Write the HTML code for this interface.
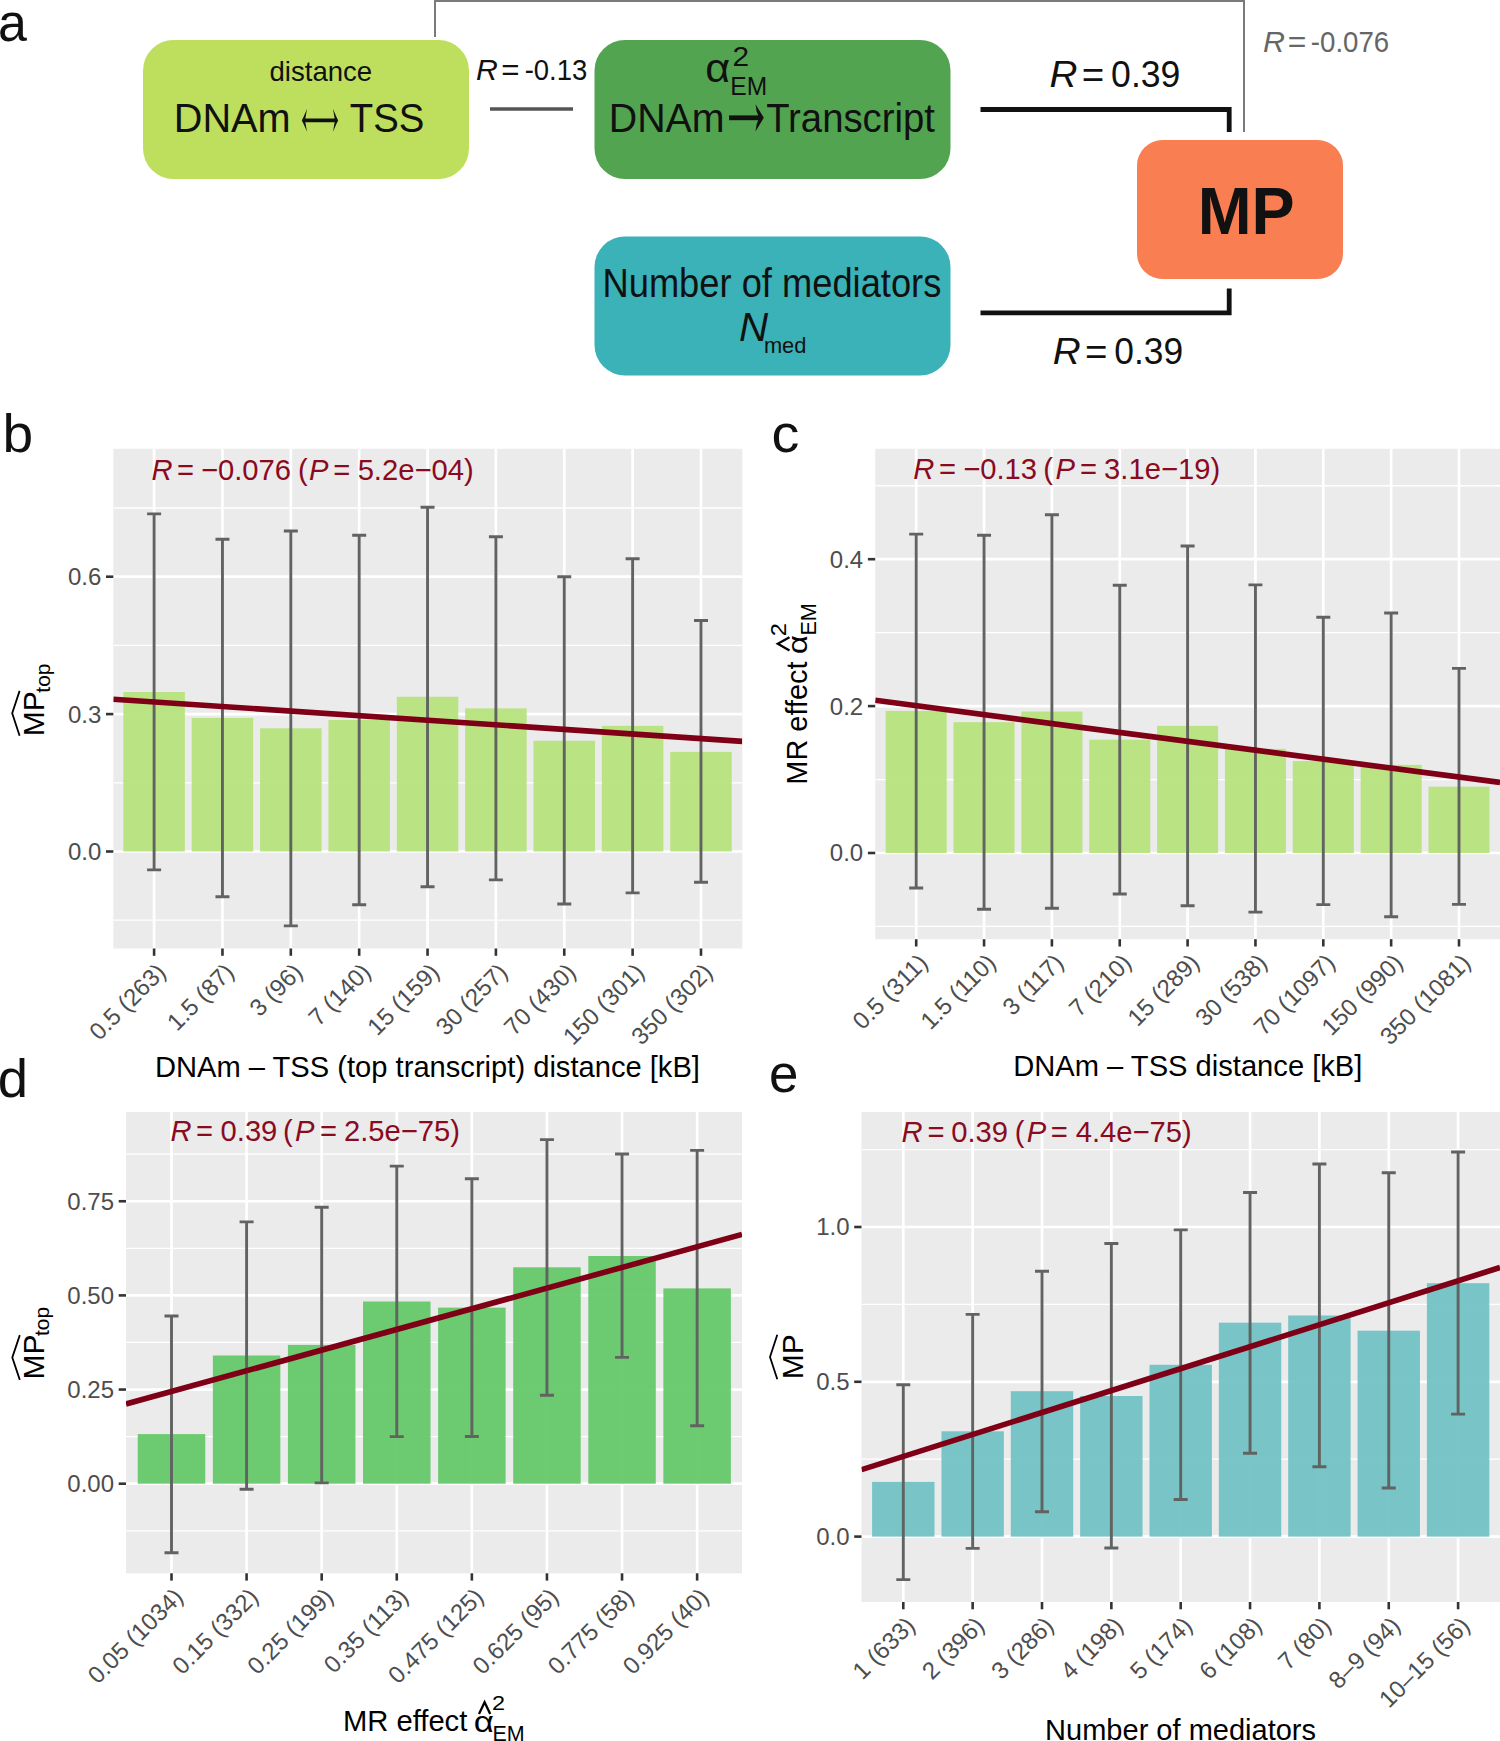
<!DOCTYPE html><html><head><meta charset="utf-8"><style>html,body{margin:0;padding:0;background:#fff;width:1500px;height:1741px;overflow:hidden}svg{display:block}</style></head><body>
<svg width="1500" height="1741" viewBox="0 0 1500 1741" font-family='"Liberation Sans", sans-serif'>
<text x="-1.91" y="40.78" font-size="53.48" fill="#111" textLength="28.91" lengthAdjust="spacingAndGlyphs">a</text>
<rect x="143" y="40" width="326" height="139" rx="30.5" fill="#bedf5e"/>
<rect x="594.5" y="40" width="356" height="139" rx="30.5" fill="#53a450"/>
<rect x="594.5" y="236.5" width="356" height="139" rx="30.5" fill="#3ab2b8"/>
<rect x="1137" y="140" width="206" height="139" rx="25.5" fill="#f97e52"/>
<path d="M435 37V1H1244V132" stroke="#7a7a7a" stroke-width="2" fill="none"/>
<path d="M980.5 109.5H1229.2V132" stroke="#111" stroke-width="4.8" fill="none"/>
<path d="M980.5 312.9H1229.2V288.4" stroke="#111" stroke-width="4.8" fill="none"/>
<line x1="490" x2="573" y1="109" y2="109" stroke="#555" stroke-width="3.3"/>
<text x="269.44" y="81" font-size="27.6" fill="#111" textLength="102.79" lengthAdjust="spacingAndGlyphs">distance</text>
<text x="173.74" y="132.2" font-size="40" fill="#111" textLength="116.87" lengthAdjust="spacingAndGlyphs">DNAm</text>
<path d="M303.5 120.4H336.5" stroke="#111" stroke-width="3.6" fill="none"/>
<path d="M333 108.8Q336 116.5 338.2 120.4Q336 124.3 333 131.8Q334.2 124.5 335 120.4Q334.2 116.3 333 108.8ZM307 108.8Q304 116.5 301.8 120.4Q304 124.3 307 131.8Q305.8 124.5 305 120.4Q305.8 116.3 307 108.8Z" fill="#111"/>
<text x="349.74" y="132.2" font-size="40" fill="#111" textLength="74.62" lengthAdjust="spacingAndGlyphs">TSS</text>
<text x="475.97" y="80.3" font-size="30.2" fill="#111" font-style="italic" textLength="21.86" lengthAdjust="spacingAndGlyphs">R</text>
<text x="501.37" y="80.3" font-size="30.2" fill="#111" textLength="18.27" lengthAdjust="spacingAndGlyphs">=</text>
<text x="524.68" y="80.3" font-size="30.2" fill="#111" textLength="62.63" lengthAdjust="spacingAndGlyphs">-0.13</text>
<text x="705.19" y="81.5" font-size="40.89" fill="#111" textLength="24.96" lengthAdjust="spacingAndGlyphs">α</text>
<text x="732.4" y="66.4" font-size="27.93" fill="#111" textLength="16.6" lengthAdjust="spacingAndGlyphs">2</text>
<text x="730.29" y="95.2" font-size="24.86" fill="#111" textLength="36.83" lengthAdjust="spacingAndGlyphs">EM</text>
<text x="608.77" y="132" font-size="40" fill="#111" textLength="115.82" lengthAdjust="spacingAndGlyphs">DNAm</text>
<path d="M729 117.8H760" stroke="#111" stroke-width="4.8" fill="none"/>
<path d="M755.5 104.2L763.8 117.8L755.5 131.4L756.6 124.2L759.2 117.8L756.6 111.4Z" fill="#111"/>
<text x="766.15" y="132" font-size="40" fill="#111" textLength="168.83" lengthAdjust="spacingAndGlyphs">Transcript</text>
<text x="602.52" y="297.3" font-size="40" fill="#111" textLength="338.79" lengthAdjust="spacingAndGlyphs">Number of mediators</text>
<text x="738.96" y="340.9" font-size="40.41" fill="#111" font-style="italic" textLength="29.12" lengthAdjust="spacingAndGlyphs">N</text>
<text x="763.95" y="353.38" font-size="22.47" fill="#111" textLength="42.46" lengthAdjust="spacingAndGlyphs">med</text>
<text x="1197.68" y="234" font-size="66" fill="#111" font-weight="bold" textLength="96.93" lengthAdjust="spacingAndGlyphs">MP</text>
<text x="1049.51" y="87.3" font-size="37.5" fill="#111" font-style="italic" textLength="27.98" lengthAdjust="spacingAndGlyphs">R</text>
<text x="1081.82" y="87.3" font-size="37.5" fill="#111" textLength="22.48" lengthAdjust="spacingAndGlyphs">=</text>
<text x="1111.11" y="87.3" font-size="37.5" fill="#111" textLength="69.28" lengthAdjust="spacingAndGlyphs">0.39</text>
<text x="1052.71" y="363.8" font-size="37.5" fill="#111" font-style="italic" textLength="27.98" lengthAdjust="spacingAndGlyphs">R</text>
<text x="1085.02" y="363.8" font-size="37.5" fill="#111" textLength="22.48" lengthAdjust="spacingAndGlyphs">=</text>
<text x="1114.32" y="363.8" font-size="37.5" fill="#111" textLength="68.86" lengthAdjust="spacingAndGlyphs">0.39</text>
<text x="1262.96" y="52.1" font-size="30" fill="#666" font-style="italic" textLength="21.97" lengthAdjust="spacingAndGlyphs">R</text>
<text x="1287.74" y="52.1" font-size="30" fill="#666" textLength="18.63" lengthAdjust="spacingAndGlyphs">=</text>
<text x="1310.87" y="52.1" font-size="30" fill="#666" textLength="78.34" lengthAdjust="spacingAndGlyphs">-0.076</text>
<text x="2.45" y="451.78" font-size="53.51" fill="#111" textLength="30.67" lengthAdjust="spacingAndGlyphs">b</text>
<clipPath id="pb"><rect x="113.3" y="448.8" width="629" height="499.7"/></clipPath>
<rect x="113.3" y="448.8" width="629" height="499.7" fill="#ebebeb"/>
<g clip-path="url(#pb)">
<line x1="113.3" x2="742.3" y1="920.2" y2="920.2" stroke="#fff" stroke-width="1.3"/>
<line x1="113.3" x2="742.3" y1="782.8" y2="782.8" stroke="#fff" stroke-width="1.3"/>
<line x1="113.3" x2="742.3" y1="645.4" y2="645.4" stroke="#fff" stroke-width="1.3"/>
<line x1="113.3" x2="742.3" y1="508" y2="508" stroke="#fff" stroke-width="1.3"/>
<line x1="113.3" x2="742.3" y1="851.5" y2="851.5" stroke="#fff" stroke-width="2.7"/>
<line x1="113.3" x2="742.3" y1="714.1" y2="714.1" stroke="#fff" stroke-width="2.7"/>
<line x1="113.3" x2="742.3" y1="576.7" y2="576.7" stroke="#fff" stroke-width="2.7"/>
<line x1="154.1" x2="154.1" y1="448.8" y2="948.5" stroke="#fff" stroke-width="2.7"/>
<line x1="222.46" x2="222.46" y1="448.8" y2="948.5" stroke="#fff" stroke-width="2.7"/>
<line x1="290.82" x2="290.82" y1="448.8" y2="948.5" stroke="#fff" stroke-width="2.7"/>
<line x1="359.18" x2="359.18" y1="448.8" y2="948.5" stroke="#fff" stroke-width="2.7"/>
<line x1="427.54" x2="427.54" y1="448.8" y2="948.5" stroke="#fff" stroke-width="2.7"/>
<line x1="495.9" x2="495.9" y1="448.8" y2="948.5" stroke="#fff" stroke-width="2.7"/>
<line x1="564.26" x2="564.26" y1="448.8" y2="948.5" stroke="#fff" stroke-width="2.7"/>
<line x1="632.62" x2="632.62" y1="448.8" y2="948.5" stroke="#fff" stroke-width="2.7"/>
<line x1="700.98" x2="700.98" y1="448.8" y2="948.5" stroke="#fff" stroke-width="2.7"/>
<rect x="123.35" y="692" width="61.5" height="159.5" fill="#b6e27b" fill-opacity="0.93"/>
<rect x="191.71" y="717.9" width="61.5" height="133.6" fill="#b6e27b" fill-opacity="0.93"/>
<rect x="260.07" y="728.3" width="61.5" height="123.2" fill="#b6e27b" fill-opacity="0.93"/>
<rect x="328.43" y="720" width="61.5" height="131.5" fill="#b6e27b" fill-opacity="0.93"/>
<rect x="396.79" y="696.8" width="61.5" height="154.7" fill="#b6e27b" fill-opacity="0.93"/>
<rect x="465.15" y="708.4" width="61.5" height="143.1" fill="#b6e27b" fill-opacity="0.93"/>
<rect x="533.51" y="740.8" width="61.5" height="110.7" fill="#b6e27b" fill-opacity="0.93"/>
<rect x="601.87" y="725.9" width="61.5" height="125.6" fill="#b6e27b" fill-opacity="0.93"/>
<rect x="670.23" y="751.9" width="61.5" height="99.6" fill="#b6e27b" fill-opacity="0.93"/>
<path d="M154.1 513.9V869.9M147.1 513.9H161.1M147.1 869.9H161.1" stroke="#616361" stroke-width="2.9" fill="none"/>
<path d="M222.46 539.2V896.8M215.46 539.2H229.46M215.46 896.8H229.46" stroke="#616361" stroke-width="2.9" fill="none"/>
<path d="M290.82 531V925.9M283.82 531H297.82M283.82 925.9H297.82" stroke="#616361" stroke-width="2.9" fill="none"/>
<path d="M359.18 535.2V904.8M352.18 535.2H366.18M352.18 904.8H366.18" stroke="#616361" stroke-width="2.9" fill="none"/>
<path d="M427.54 507.2V886.7M420.54 507.2H434.54M420.54 886.7H434.54" stroke="#616361" stroke-width="2.9" fill="none"/>
<path d="M495.9 536.8V879.9M488.9 536.8H502.9M488.9 879.9H502.9" stroke="#616361" stroke-width="2.9" fill="none"/>
<path d="M564.26 576.8V904M557.26 576.8H571.26M557.26 904H571.26" stroke="#616361" stroke-width="2.9" fill="none"/>
<path d="M632.62 558.7V892.9M625.62 558.7H639.62M625.62 892.9H639.62" stroke="#616361" stroke-width="2.9" fill="none"/>
<path d="M700.98 620.5V882.2M693.98 620.5H707.98M693.98 882.2H707.98" stroke="#616361" stroke-width="2.9" fill="none"/>
<line x1="113.3" y1="699.2" x2="742.3" y2="741.4" stroke="#7f0016" stroke-width="5.6"/>
</g>
<line x1="106" x2="113.3" y1="851.5" y2="851.5" stroke="#333333" stroke-width="2.6"/>
<text x="101.3" y="859.9" font-size="24" fill="#4d4d4d" text-anchor="end">0.0</text>
<line x1="106" x2="113.3" y1="714.1" y2="714.1" stroke="#333333" stroke-width="2.6"/>
<text x="101.3" y="722.5" font-size="24" fill="#4d4d4d" text-anchor="end">0.3</text>
<line x1="106" x2="113.3" y1="576.7" y2="576.7" stroke="#333333" stroke-width="2.6"/>
<text x="101.3" y="585.1" font-size="24" fill="#4d4d4d" text-anchor="end">0.6</text>
<line x1="154.1" x2="154.1" y1="948.5" y2="955.8" stroke="#333333" stroke-width="2.6"/>
<text transform="translate(167.1 973.5) rotate(-45)" font-size="24" fill="#4d4d4d" text-anchor="end">0.5 (263)</text>
<line x1="222.46" x2="222.46" y1="948.5" y2="955.8" stroke="#333333" stroke-width="2.6"/>
<text transform="translate(235.46 973.5) rotate(-45)" font-size="24" fill="#4d4d4d" text-anchor="end">1.5 (87)</text>
<line x1="290.82" x2="290.82" y1="948.5" y2="955.8" stroke="#333333" stroke-width="2.6"/>
<text transform="translate(303.82 973.5) rotate(-45)" font-size="24" fill="#4d4d4d" text-anchor="end">3 (96)</text>
<line x1="359.18" x2="359.18" y1="948.5" y2="955.8" stroke="#333333" stroke-width="2.6"/>
<text transform="translate(372.18 973.5) rotate(-45)" font-size="24" fill="#4d4d4d" text-anchor="end">7 (140)</text>
<line x1="427.54" x2="427.54" y1="948.5" y2="955.8" stroke="#333333" stroke-width="2.6"/>
<text transform="translate(440.54 973.5) rotate(-45)" font-size="24" fill="#4d4d4d" text-anchor="end">15 (159)</text>
<line x1="495.9" x2="495.9" y1="948.5" y2="955.8" stroke="#333333" stroke-width="2.6"/>
<text transform="translate(508.9 973.5) rotate(-45)" font-size="24" fill="#4d4d4d" text-anchor="end">30 (257)</text>
<line x1="564.26" x2="564.26" y1="948.5" y2="955.8" stroke="#333333" stroke-width="2.6"/>
<text transform="translate(577.26 973.5) rotate(-45)" font-size="24" fill="#4d4d4d" text-anchor="end">70 (430)</text>
<line x1="632.62" x2="632.62" y1="948.5" y2="955.8" stroke="#333333" stroke-width="2.6"/>
<text transform="translate(645.62 973.5) rotate(-45)" font-size="24" fill="#4d4d4d" text-anchor="end">150 (301)</text>
<line x1="700.98" x2="700.98" y1="948.5" y2="955.8" stroke="#333333" stroke-width="2.6"/>
<text transform="translate(713.98 973.5) rotate(-45)" font-size="24" fill="#4d4d4d" text-anchor="end">350 (302)</text>
<text y="479.5" font-size="29.2" fill="#8a0a1e"><tspan x="151.6" font-style="italic">R</tspan><tspan x="177.07">=</tspan><tspan x="200.96">−0.076</tspan><tspan x="298.09">(</tspan><tspan x="309.1" font-style="italic">P</tspan><tspan x="333.17">=</tspan><tspan x="357.63">5.2e−04)</tspan></text>
<text x="154.91" y="1077.3" font-size="29.1" fill="#000" textLength="545.06" lengthAdjust="spacingAndGlyphs">DNAm – TSS (top transcript) distance [kB]</text>
<g transform="translate(44.3 734.2) rotate(-90)"><text x="-2" y="0" font-size="30" fill="#000">MP</text><text x="41.5" y="5.2" font-size="21" fill="#000">top</text></g>
<path d="M19.6 690.9L12.2 713.3L19.6 735.7" stroke="#000" stroke-width="1.8" fill="none"/>
<text x="771.64" y="452.28" font-size="53.12" fill="#111" textLength="27.83" lengthAdjust="spacingAndGlyphs">c</text>
<clipPath id="pc"><rect x="875.2" y="448.8" width="624.8" height="490.4"/></clipPath>
<rect x="875.2" y="448.8" width="624.8" height="490.4" fill="#ebebeb"/>
<g clip-path="url(#pc)">
<line x1="875.2" x2="1500" y1="926.45" y2="926.45" stroke="#fff" stroke-width="1.3"/>
<line x1="875.2" x2="1500" y1="779.55" y2="779.55" stroke="#fff" stroke-width="1.3"/>
<line x1="875.2" x2="1500" y1="632.65" y2="632.65" stroke="#fff" stroke-width="1.3"/>
<line x1="875.2" x2="1500" y1="485.75" y2="485.75" stroke="#fff" stroke-width="1.3"/>
<line x1="875.2" x2="1500" y1="853" y2="853" stroke="#fff" stroke-width="2.7"/>
<line x1="875.2" x2="1500" y1="706.1" y2="706.1" stroke="#fff" stroke-width="2.7"/>
<line x1="875.2" x2="1500" y1="559.2" y2="559.2" stroke="#fff" stroke-width="2.7"/>
<line x1="916.2" x2="916.2" y1="448.8" y2="939.2" stroke="#fff" stroke-width="2.7"/>
<line x1="984.05" x2="984.05" y1="448.8" y2="939.2" stroke="#fff" stroke-width="2.7"/>
<line x1="1051.9" x2="1051.9" y1="448.8" y2="939.2" stroke="#fff" stroke-width="2.7"/>
<line x1="1119.75" x2="1119.75" y1="448.8" y2="939.2" stroke="#fff" stroke-width="2.7"/>
<line x1="1187.6" x2="1187.6" y1="448.8" y2="939.2" stroke="#fff" stroke-width="2.7"/>
<line x1="1255.45" x2="1255.45" y1="448.8" y2="939.2" stroke="#fff" stroke-width="2.7"/>
<line x1="1323.3" x2="1323.3" y1="448.8" y2="939.2" stroke="#fff" stroke-width="2.7"/>
<line x1="1391.15" x2="1391.15" y1="448.8" y2="939.2" stroke="#fff" stroke-width="2.7"/>
<line x1="1459" x2="1459" y1="448.8" y2="939.2" stroke="#fff" stroke-width="2.7"/>
<rect x="885.7" y="710.9" width="61" height="142.1" fill="#b6e27b" fill-opacity="0.93"/>
<rect x="953.55" y="722.2" width="61" height="130.8" fill="#b6e27b" fill-opacity="0.93"/>
<rect x="1021.4" y="711.6" width="61" height="141.4" fill="#b6e27b" fill-opacity="0.93"/>
<rect x="1089.25" y="739.7" width="61" height="113.3" fill="#b6e27b" fill-opacity="0.93"/>
<rect x="1157.1" y="725.9" width="61" height="127.1" fill="#b6e27b" fill-opacity="0.93"/>
<rect x="1224.95" y="748.9" width="61" height="104.1" fill="#b6e27b" fill-opacity="0.93"/>
<rect x="1292.8" y="761" width="61" height="92" fill="#b6e27b" fill-opacity="0.93"/>
<rect x="1360.65" y="764.9" width="61" height="88.1" fill="#b6e27b" fill-opacity="0.93"/>
<rect x="1428.5" y="786.7" width="61" height="66.3" fill="#b6e27b" fill-opacity="0.93"/>
<path d="M916.2 534.1V888M909.2 534.1H923.2M909.2 888H923.2" stroke="#616361" stroke-width="2.9" fill="none"/>
<path d="M984.05 535.2V909.3M977.05 535.2H991.05M977.05 909.3H991.05" stroke="#616361" stroke-width="2.9" fill="none"/>
<path d="M1051.9 514.7V908.3M1044.9 514.7H1058.9M1044.9 908.3H1058.9" stroke="#616361" stroke-width="2.9" fill="none"/>
<path d="M1119.75 585.3V894M1112.75 585.3H1126.75M1112.75 894H1126.75" stroke="#616361" stroke-width="2.9" fill="none"/>
<path d="M1187.6 546V905.7M1180.6 546H1194.6M1180.6 905.7H1194.6" stroke="#616361" stroke-width="2.9" fill="none"/>
<path d="M1255.45 584.9V912.1M1248.45 584.9H1262.45M1248.45 912.1H1262.45" stroke="#616361" stroke-width="2.9" fill="none"/>
<path d="M1323.3 617.3V904.6M1316.3 617.3H1330.3M1316.3 904.6H1330.3" stroke="#616361" stroke-width="2.9" fill="none"/>
<path d="M1391.15 613V916.8M1384.15 613H1398.15M1384.15 916.8H1398.15" stroke="#616361" stroke-width="2.9" fill="none"/>
<path d="M1459 668.4V904.4M1452 668.4H1466M1452 904.4H1466" stroke="#616361" stroke-width="2.9" fill="none"/>
<line x1="875.2" y1="700.3" x2="1500" y2="782.4" stroke="#7f0016" stroke-width="5.6"/>
</g>
<line x1="867.9" x2="875.2" y1="853" y2="853" stroke="#333333" stroke-width="2.6"/>
<text x="863.2" y="861.4" font-size="24" fill="#4d4d4d" text-anchor="end">0.0</text>
<line x1="867.9" x2="875.2" y1="706.1" y2="706.1" stroke="#333333" stroke-width="2.6"/>
<text x="863.2" y="714.5" font-size="24" fill="#4d4d4d" text-anchor="end">0.2</text>
<line x1="867.9" x2="875.2" y1="559.2" y2="559.2" stroke="#333333" stroke-width="2.6"/>
<text x="863.2" y="567.6" font-size="24" fill="#4d4d4d" text-anchor="end">0.4</text>
<line x1="916.2" x2="916.2" y1="939.2" y2="946.5" stroke="#333333" stroke-width="2.6"/>
<text transform="translate(929.2 964.2) rotate(-45)" font-size="24" fill="#4d4d4d" text-anchor="end">0.5 (311)</text>
<line x1="984.05" x2="984.05" y1="939.2" y2="946.5" stroke="#333333" stroke-width="2.6"/>
<text transform="translate(997.05 964.2) rotate(-45)" font-size="24" fill="#4d4d4d" text-anchor="end">1.5 (110)</text>
<line x1="1051.9" x2="1051.9" y1="939.2" y2="946.5" stroke="#333333" stroke-width="2.6"/>
<text transform="translate(1064.9 964.2) rotate(-45)" font-size="24" fill="#4d4d4d" text-anchor="end">3 (117)</text>
<line x1="1119.75" x2="1119.75" y1="939.2" y2="946.5" stroke="#333333" stroke-width="2.6"/>
<text transform="translate(1132.75 964.2) rotate(-45)" font-size="24" fill="#4d4d4d" text-anchor="end">7 (210)</text>
<line x1="1187.6" x2="1187.6" y1="939.2" y2="946.5" stroke="#333333" stroke-width="2.6"/>
<text transform="translate(1200.6 964.2) rotate(-45)" font-size="24" fill="#4d4d4d" text-anchor="end">15 (289)</text>
<line x1="1255.45" x2="1255.45" y1="939.2" y2="946.5" stroke="#333333" stroke-width="2.6"/>
<text transform="translate(1268.45 964.2) rotate(-45)" font-size="24" fill="#4d4d4d" text-anchor="end">30 (538)</text>
<line x1="1323.3" x2="1323.3" y1="939.2" y2="946.5" stroke="#333333" stroke-width="2.6"/>
<text transform="translate(1336.3 964.2) rotate(-45)" font-size="24" fill="#4d4d4d" text-anchor="end">70 (1097)</text>
<line x1="1391.15" x2="1391.15" y1="939.2" y2="946.5" stroke="#333333" stroke-width="2.6"/>
<text transform="translate(1404.15 964.2) rotate(-45)" font-size="24" fill="#4d4d4d" text-anchor="end">150 (990)</text>
<line x1="1459" x2="1459" y1="939.2" y2="946.5" stroke="#333333" stroke-width="2.6"/>
<text transform="translate(1472 964.2) rotate(-45)" font-size="24" fill="#4d4d4d" text-anchor="end">350 (1081)</text>
<text y="479" font-size="29.2" fill="#8a0a1e"><tspan x="913.2" font-style="italic">R</tspan><tspan x="938.97">=</tspan><tspan x="963.16">−0.13</tspan><tspan x="1043.29">(</tspan><tspan x="1055.6" font-style="italic">P</tspan><tspan x="1079.97">=</tspan><tspan x="1104.09">3.1e−19)</tspan></text>
<text x="1013.21" y="1076.4" font-size="29.1" fill="#000" textLength="349.16" lengthAdjust="spacingAndGlyphs">DNAm – TSS distance [kB]</text>
<g transform="translate(806.9 782.3) rotate(-90)"><text x="-2.36" y="0" font-size="29.1" fill="#000" textLength="123.27" lengthAdjust="spacingAndGlyphs">MR effect</text></g>
<g transform="translate(806.9 782.3) rotate(-90)"><text x="128.01" y="0.03" font-size="27.56" fill="#000" textLength="19.14" lengthAdjust="spacingAndGlyphs">α</text></g>
<g transform="translate(806.9 782.3) rotate(-90)"><text x="146.11" y="-21" font-size="22.34" fill="#000" textLength="13.18" lengthAdjust="spacingAndGlyphs">2</text></g>
<g transform="translate(806.9 782.3) rotate(-90)"><text x="146.73" y="9.1" font-size="22.09" fill="#000" textLength="32.45" lengthAdjust="spacingAndGlyphs">EM</text></g>
<path d="M789.5 650.5L777.8 643.8L789.5 637.2" stroke="#000" stroke-width="2.3" fill="none" stroke-linejoin="miter"/>
<text x="-2.29" y="1097.28" font-size="52.83" fill="#111" textLength="30.3" lengthAdjust="spacingAndGlyphs">d</text>
<clipPath id="pd"><rect x="126" y="1112" width="616" height="461.3"/></clipPath>
<rect x="126" y="1112" width="616" height="461.3" fill="#ebebeb"/>
<g clip-path="url(#pd)">
<line x1="126" x2="742" y1="1530.78" y2="1530.78" stroke="#fff" stroke-width="1.3"/>
<line x1="126" x2="742" y1="1436.62" y2="1436.62" stroke="#fff" stroke-width="1.3"/>
<line x1="126" x2="742" y1="1342.47" y2="1342.47" stroke="#fff" stroke-width="1.3"/>
<line x1="126" x2="742" y1="1248.33" y2="1248.33" stroke="#fff" stroke-width="1.3"/>
<line x1="126" x2="742" y1="1154.17" y2="1154.17" stroke="#fff" stroke-width="1.3"/>
<line x1="126" x2="742" y1="1483.7" y2="1483.7" stroke="#fff" stroke-width="2.7"/>
<line x1="126" x2="742" y1="1389.55" y2="1389.55" stroke="#fff" stroke-width="2.7"/>
<line x1="126" x2="742" y1="1295.4" y2="1295.4" stroke="#fff" stroke-width="2.7"/>
<line x1="126" x2="742" y1="1201.25" y2="1201.25" stroke="#fff" stroke-width="2.7"/>
<line x1="171.5" x2="171.5" y1="1112" y2="1573.3" stroke="#fff" stroke-width="2.7"/>
<line x1="246.59" x2="246.59" y1="1112" y2="1573.3" stroke="#fff" stroke-width="2.7"/>
<line x1="321.68" x2="321.68" y1="1112" y2="1573.3" stroke="#fff" stroke-width="2.7"/>
<line x1="396.77" x2="396.77" y1="1112" y2="1573.3" stroke="#fff" stroke-width="2.7"/>
<line x1="471.86" x2="471.86" y1="1112" y2="1573.3" stroke="#fff" stroke-width="2.7"/>
<line x1="546.95" x2="546.95" y1="1112" y2="1573.3" stroke="#fff" stroke-width="2.7"/>
<line x1="622.04" x2="622.04" y1="1112" y2="1573.3" stroke="#fff" stroke-width="2.7"/>
<line x1="697.13" x2="697.13" y1="1112" y2="1573.3" stroke="#fff" stroke-width="2.7"/>
<rect x="137.75" y="1434.1" width="67.5" height="49.6" fill="#62c766" fill-opacity="0.93"/>
<rect x="212.84" y="1355.5" width="67.5" height="128.2" fill="#62c766" fill-opacity="0.93"/>
<rect x="287.93" y="1344.9" width="67.5" height="138.8" fill="#62c766" fill-opacity="0.93"/>
<rect x="363.02" y="1301.5" width="67.5" height="182.2" fill="#62c766" fill-opacity="0.93"/>
<rect x="438.11" y="1307.6" width="67.5" height="176.1" fill="#62c766" fill-opacity="0.93"/>
<rect x="513.2" y="1267.3" width="67.5" height="216.4" fill="#62c766" fill-opacity="0.93"/>
<rect x="588.29" y="1256" width="67.5" height="227.7" fill="#62c766" fill-opacity="0.93"/>
<rect x="663.38" y="1288.4" width="67.5" height="195.3" fill="#62c766" fill-opacity="0.93"/>
<path d="M171.5 1316V1552.7M164.5 1316H178.5M164.5 1552.7H178.5" stroke="#616361" stroke-width="2.9" fill="none"/>
<path d="M246.59 1221.9V1489.3M239.59 1221.9H253.59M239.59 1489.3H253.59" stroke="#616361" stroke-width="2.9" fill="none"/>
<path d="M321.68 1207.2V1482.9M314.68 1207.2H328.68M314.68 1482.9H328.68" stroke="#616361" stroke-width="2.9" fill="none"/>
<path d="M396.77 1166.1V1436.6M389.77 1166.1H403.77M389.77 1436.6H403.77" stroke="#616361" stroke-width="2.9" fill="none"/>
<path d="M471.86 1178.7V1436.5M464.86 1178.7H478.86M464.86 1436.5H478.86" stroke="#616361" stroke-width="2.9" fill="none"/>
<path d="M546.95 1139.6V1395.2M539.95 1139.6H553.95M539.95 1395.2H553.95" stroke="#616361" stroke-width="2.9" fill="none"/>
<path d="M622.04 1154V1357.4M615.04 1154H629.04M615.04 1357.4H629.04" stroke="#616361" stroke-width="2.9" fill="none"/>
<path d="M697.13 1150.4V1425.7M690.13 1150.4H704.13M690.13 1425.7H704.13" stroke="#616361" stroke-width="2.9" fill="none"/>
<line x1="126" y1="1404" x2="742" y2="1234.4" stroke="#7f0016" stroke-width="5.6"/>
</g>
<line x1="118.7" x2="126" y1="1483.7" y2="1483.7" stroke="#333333" stroke-width="2.6"/>
<text x="114" y="1492.1" font-size="24" fill="#4d4d4d" text-anchor="end">0.00</text>
<line x1="118.7" x2="126" y1="1389.55" y2="1389.55" stroke="#333333" stroke-width="2.6"/>
<text x="114" y="1397.95" font-size="24" fill="#4d4d4d" text-anchor="end">0.25</text>
<line x1="118.7" x2="126" y1="1295.4" y2="1295.4" stroke="#333333" stroke-width="2.6"/>
<text x="114" y="1303.8" font-size="24" fill="#4d4d4d" text-anchor="end">0.50</text>
<line x1="118.7" x2="126" y1="1201.25" y2="1201.25" stroke="#333333" stroke-width="2.6"/>
<text x="114" y="1209.65" font-size="24" fill="#4d4d4d" text-anchor="end">0.75</text>
<line x1="171.5" x2="171.5" y1="1573.3" y2="1580.6" stroke="#333333" stroke-width="2.6"/>
<text transform="translate(184.5 1598.3) rotate(-45)" font-size="24" fill="#4d4d4d" text-anchor="end">0.05 (1034)</text>
<line x1="246.59" x2="246.59" y1="1573.3" y2="1580.6" stroke="#333333" stroke-width="2.6"/>
<text transform="translate(259.59 1598.3) rotate(-45)" font-size="24" fill="#4d4d4d" text-anchor="end">0.15 (332)</text>
<line x1="321.68" x2="321.68" y1="1573.3" y2="1580.6" stroke="#333333" stroke-width="2.6"/>
<text transform="translate(334.68 1598.3) rotate(-45)" font-size="24" fill="#4d4d4d" text-anchor="end">0.25 (199)</text>
<line x1="396.77" x2="396.77" y1="1573.3" y2="1580.6" stroke="#333333" stroke-width="2.6"/>
<text transform="translate(409.77 1598.3) rotate(-45)" font-size="24" fill="#4d4d4d" text-anchor="end">0.35 (113)</text>
<line x1="471.86" x2="471.86" y1="1573.3" y2="1580.6" stroke="#333333" stroke-width="2.6"/>
<text transform="translate(484.86 1598.3) rotate(-45)" font-size="24" fill="#4d4d4d" text-anchor="end">0.475 (125)</text>
<line x1="546.95" x2="546.95" y1="1573.3" y2="1580.6" stroke="#333333" stroke-width="2.6"/>
<text transform="translate(559.95 1598.3) rotate(-45)" font-size="24" fill="#4d4d4d" text-anchor="end">0.625 (95)</text>
<line x1="622.04" x2="622.04" y1="1573.3" y2="1580.6" stroke="#333333" stroke-width="2.6"/>
<text transform="translate(635.04 1598.3) rotate(-45)" font-size="24" fill="#4d4d4d" text-anchor="end">0.775 (58)</text>
<line x1="697.13" x2="697.13" y1="1573.3" y2="1580.6" stroke="#333333" stroke-width="2.6"/>
<text transform="translate(710.13 1598.3) rotate(-45)" font-size="24" fill="#4d4d4d" text-anchor="end">0.925 (40)</text>
<text y="1141" font-size="29.2" fill="#8a0a1e"><tspan x="170.4" font-style="italic">R</tspan><tspan x="195.97">=</tspan><tspan x="220.56">0.39</tspan><tspan x="282.89">(</tspan><tspan x="295.1" font-style="italic">P</tspan><tspan x="320.07">=</tspan><tspan x="344.03">2.5e−75)</tspan></text>
<text x="343.02" y="1730.9" font-size="29.1" fill="#000" textLength="124.3" lengthAdjust="spacingAndGlyphs">MR effect</text>
<text x="473.83" y="1731.72" font-size="28.66" fill="#000" textLength="20.17" lengthAdjust="spacingAndGlyphs">α</text>
<path d="M479 1714L484.6 1702.2L490.2 1714" stroke="#000" stroke-width="2.3" fill="none"/>
<text x="492.12" y="1710" font-size="21.05" fill="#000" textLength="13.06" lengthAdjust="spacingAndGlyphs">2</text>
<text x="492.54" y="1740.5" font-size="22.53" fill="#000" textLength="32.22" lengthAdjust="spacingAndGlyphs">EM</text>
<g transform="translate(44.1 1377.5) rotate(-90)"><text x="-2" y="0" font-size="30" fill="#000">MP</text><text x="41.5" y="5.2" font-size="21" fill="#000">top</text></g>
<path d="M19.8 1335.1L12.3 1357.5L19.8 1379.9" stroke="#000" stroke-width="1.8" fill="none"/>
<text x="768.95" y="1092.18" font-size="53.66" fill="#111" textLength="29.39" lengthAdjust="spacingAndGlyphs">e</text>
<clipPath id="pe"><rect x="861.5" y="1112" width="638.5" height="490"/></clipPath>
<rect x="861.5" y="1112" width="638.5" height="490" fill="#ebebeb"/>
<g clip-path="url(#pe)">
<line x1="861.5" x2="1500" y1="1614" y2="1614" stroke="#fff" stroke-width="1.3"/>
<line x1="861.5" x2="1500" y1="1459.2" y2="1459.2" stroke="#fff" stroke-width="1.3"/>
<line x1="861.5" x2="1500" y1="1304.4" y2="1304.4" stroke="#fff" stroke-width="1.3"/>
<line x1="861.5" x2="1500" y1="1149.6" y2="1149.6" stroke="#fff" stroke-width="1.3"/>
<line x1="861.5" x2="1500" y1="1536.6" y2="1536.6" stroke="#fff" stroke-width="2.7"/>
<line x1="861.5" x2="1500" y1="1381.8" y2="1381.8" stroke="#fff" stroke-width="2.7"/>
<line x1="861.5" x2="1500" y1="1227" y2="1227" stroke="#fff" stroke-width="2.7"/>
<line x1="903.3" x2="903.3" y1="1112" y2="1602" stroke="#fff" stroke-width="2.7"/>
<line x1="972.65" x2="972.65" y1="1112" y2="1602" stroke="#fff" stroke-width="2.7"/>
<line x1="1042" x2="1042" y1="1112" y2="1602" stroke="#fff" stroke-width="2.7"/>
<line x1="1111.35" x2="1111.35" y1="1112" y2="1602" stroke="#fff" stroke-width="2.7"/>
<line x1="1180.7" x2="1180.7" y1="1112" y2="1602" stroke="#fff" stroke-width="2.7"/>
<line x1="1250.05" x2="1250.05" y1="1112" y2="1602" stroke="#fff" stroke-width="2.7"/>
<line x1="1319.4" x2="1319.4" y1="1112" y2="1602" stroke="#fff" stroke-width="2.7"/>
<line x1="1388.75" x2="1388.75" y1="1112" y2="1602" stroke="#fff" stroke-width="2.7"/>
<line x1="1458.1" x2="1458.1" y1="1112" y2="1602" stroke="#fff" stroke-width="2.7"/>
<rect x="872.1" y="1481.9" width="62.4" height="54.7" fill="#6fc1c3" fill-opacity="0.93"/>
<rect x="941.45" y="1431.3" width="62.4" height="105.3" fill="#6fc1c3" fill-opacity="0.93"/>
<rect x="1010.8" y="1391.2" width="62.4" height="145.4" fill="#6fc1c3" fill-opacity="0.93"/>
<rect x="1080.15" y="1396" width="62.4" height="140.6" fill="#6fc1c3" fill-opacity="0.93"/>
<rect x="1149.5" y="1364.8" width="62.4" height="171.8" fill="#6fc1c3" fill-opacity="0.93"/>
<rect x="1218.85" y="1322.7" width="62.4" height="213.9" fill="#6fc1c3" fill-opacity="0.93"/>
<rect x="1288.2" y="1315.5" width="62.4" height="221.1" fill="#6fc1c3" fill-opacity="0.93"/>
<rect x="1357.55" y="1330.7" width="62.4" height="205.9" fill="#6fc1c3" fill-opacity="0.93"/>
<rect x="1426.9" y="1283.2" width="62.4" height="253.4" fill="#6fc1c3" fill-opacity="0.93"/>
<path d="M903.3 1384.7V1579.6M896.3 1384.7H910.3M896.3 1579.6H910.3" stroke="#616361" stroke-width="2.9" fill="none"/>
<path d="M972.65 1314.4V1548.4M965.65 1314.4H979.65M965.65 1548.4H979.65" stroke="#616361" stroke-width="2.9" fill="none"/>
<path d="M1042 1271.2V1511.7M1035 1271.2H1049M1035 1511.7H1049" stroke="#616361" stroke-width="2.9" fill="none"/>
<path d="M1111.35 1243.5V1548M1104.35 1243.5H1118.35M1104.35 1548H1118.35" stroke="#616361" stroke-width="2.9" fill="none"/>
<path d="M1180.7 1229.9V1499.5M1173.7 1229.9H1187.7M1173.7 1499.5H1187.7" stroke="#616361" stroke-width="2.9" fill="none"/>
<path d="M1250.05 1192.5V1453.3M1243.05 1192.5H1257.05M1243.05 1453.3H1257.05" stroke="#616361" stroke-width="2.9" fill="none"/>
<path d="M1319.4 1164V1466.7M1312.4 1164H1326.4M1312.4 1466.7H1326.4" stroke="#616361" stroke-width="2.9" fill="none"/>
<path d="M1388.75 1172.8V1488M1381.75 1172.8H1395.75M1381.75 1488H1395.75" stroke="#616361" stroke-width="2.9" fill="none"/>
<path d="M1458.1 1152V1414.1M1451.1 1152H1465.1M1451.1 1414.1H1465.1" stroke="#616361" stroke-width="2.9" fill="none"/>
<line x1="861.5" y1="1469.7" x2="1500" y2="1267.5" stroke="#7f0016" stroke-width="5.6"/>
</g>
<line x1="854.2" x2="861.5" y1="1536.6" y2="1536.6" stroke="#333333" stroke-width="2.6"/>
<text x="849.5" y="1545" font-size="24" fill="#4d4d4d" text-anchor="end">0.0</text>
<line x1="854.2" x2="861.5" y1="1381.8" y2="1381.8" stroke="#333333" stroke-width="2.6"/>
<text x="849.5" y="1390.2" font-size="24" fill="#4d4d4d" text-anchor="end">0.5</text>
<line x1="854.2" x2="861.5" y1="1227" y2="1227" stroke="#333333" stroke-width="2.6"/>
<text x="849.5" y="1235.4" font-size="24" fill="#4d4d4d" text-anchor="end">1.0</text>
<line x1="903.3" x2="903.3" y1="1602" y2="1609.3" stroke="#333333" stroke-width="2.6"/>
<text transform="translate(916.3 1627) rotate(-45)" font-size="24" fill="#4d4d4d" text-anchor="end">1 (633)</text>
<line x1="972.65" x2="972.65" y1="1602" y2="1609.3" stroke="#333333" stroke-width="2.6"/>
<text transform="translate(985.65 1627) rotate(-45)" font-size="24" fill="#4d4d4d" text-anchor="end">2 (396)</text>
<line x1="1042" x2="1042" y1="1602" y2="1609.3" stroke="#333333" stroke-width="2.6"/>
<text transform="translate(1055 1627) rotate(-45)" font-size="24" fill="#4d4d4d" text-anchor="end">3 (286)</text>
<line x1="1111.35" x2="1111.35" y1="1602" y2="1609.3" stroke="#333333" stroke-width="2.6"/>
<text transform="translate(1124.35 1627) rotate(-45)" font-size="24" fill="#4d4d4d" text-anchor="end">4 (198)</text>
<line x1="1180.7" x2="1180.7" y1="1602" y2="1609.3" stroke="#333333" stroke-width="2.6"/>
<text transform="translate(1193.7 1627) rotate(-45)" font-size="24" fill="#4d4d4d" text-anchor="end">5 (174)</text>
<line x1="1250.05" x2="1250.05" y1="1602" y2="1609.3" stroke="#333333" stroke-width="2.6"/>
<text transform="translate(1263.05 1627) rotate(-45)" font-size="24" fill="#4d4d4d" text-anchor="end">6 (108)</text>
<line x1="1319.4" x2="1319.4" y1="1602" y2="1609.3" stroke="#333333" stroke-width="2.6"/>
<text transform="translate(1332.4 1627) rotate(-45)" font-size="24" fill="#4d4d4d" text-anchor="end">7 (80)</text>
<line x1="1388.75" x2="1388.75" y1="1602" y2="1609.3" stroke="#333333" stroke-width="2.6"/>
<text transform="translate(1401.75 1627) rotate(-45)" font-size="24" fill="#4d4d4d" text-anchor="end">8–9 (94)</text>
<line x1="1458.1" x2="1458.1" y1="1602" y2="1609.3" stroke="#333333" stroke-width="2.6"/>
<text transform="translate(1471.1 1627) rotate(-45)" font-size="24" fill="#4d4d4d" text-anchor="end">10–15 (56)</text>
<text y="1142.2" font-size="29.2" fill="#8a0a1e"><tspan x="901.6" font-style="italic">R</tspan><tspan x="927.57">=</tspan><tspan x="951.26">0.39</tspan><tspan x="1014.69">(</tspan><tspan x="1026.7" font-style="italic">P</tspan><tspan x="1050.67">=</tspan><tspan x="1075.73">4.4e−75)</tspan></text>
<text x="1045.12" y="1740" font-size="29.1" fill="#000" textLength="270.93" lengthAdjust="spacingAndGlyphs">Number of mediators</text>
<g transform="translate(802.7 1377.3) rotate(-90)"><text x="-2" y="0" font-size="30" fill="#000">MP</text></g>
<path d="M777.3 1334.8L770 1357L777.3 1379.2" stroke="#000" stroke-width="1.8" fill="none"/>
</svg></body></html>
